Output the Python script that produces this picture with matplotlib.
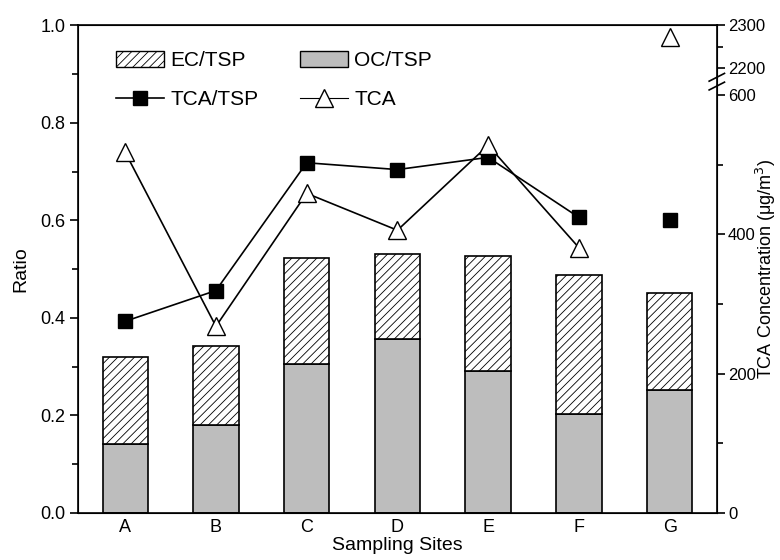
import numpy as np
import matplotlib
matplotlib.use("Agg")
import matplotlib.pyplot as plt
from matplotlib.patches import Patch
from matplotlib.lines import Line2D
from matplotlib.ticker import MultipleLocator, FixedLocator

plt.rcParams['font.family'] = ['Liberation Sans', 'DejaVu Sans']
plt.rcParams['hatch.linewidth'] = 0.6

# datos
sites = ['A', 'B', 'C', 'D', 'E', 'F', 'G']
ec_oc_total = [0.320, 0.342, 0.522, 0.530, 0.526, 0.487, 0.451]   # tope de la barra rayada
oc_tsp = [0.142, 0.180, 0.305, 0.357, 0.292, 0.202, 0.252]
tca_tsp = [0.393, 0.456, 0.718, 0.704, 0.729, 0.606, 0.601]
tca = [518, 268, 459, 406, 528, 381, 2272]

ec_tsp = [t - o for t, o in zip(ec_oc_total, oc_tsp)]
x = np.arange(len(sites))

fig = plt.figure(figsize=(7.8, 5.6), dpi=100)
ax = fig.add_axes([0.1, 0.084, 0.819, 0.871])

# barras apiladas
ax.bar(x, oc_tsp, width=0.5, color='#bdbdbd', edgecolor='black', linewidth=1.2, zorder=2)
ax.bar(x, ec_tsp, width=0.5, bottom=oc_tsp, color='white', edgecolor='black',
       hatch='////', linewidth=1.2, zorder=2)

# TCA/TSP (A-F unidos, G suelto)
ax.plot(x[:6], tca_tsp[:6], color='black', lw=1.2, marker='s', ms=10.5, zorder=4)
ax.plot(x[6:], tca_tsp[6:], color='black', lw=0, marker='s', ms=10.5, zorder=4)

ax.set_xlim(-0.52, 6.52)
ax.set_ylim(0, 1.0)
ax.set_xticks(x)
ax.set_xticklabels(sites)
ax.yaxis.set_major_locator(MultipleLocator(0.2))
ax.yaxis.set_minor_locator(MultipleLocator(0.1))
ax.tick_params(axis='y', which='major', direction='out', length=6, width=1.2, labelsize=13, pad=3)
ax.tick_params(axis='y', which='minor', direction='out', length=4, width=1.2)
ax.tick_params(axis='x', length=0, labelsize=13, pad=4)
ax.set_xlabel('Sampling Sites', fontsize=14, labelpad=1)
ax.set_ylabel('Ratio', fontsize=14, labelpad=8)
for s in ax.spines.values():
    s.set_linewidth(1.2)

# eje derecho con corte (0-600 y 2200-2300)
ax2 = ax.twinx()
v_pts = [0, 600, 2200, 2300]
p_pts = [0, 418, 445, 488]
fwd = lambda v: np.interp(v, v_pts, p_pts)
inv = lambda p: np.interp(p, p_pts, v_pts)
ax2.set_yscale('function', functions=(fwd, inv))
ax2.set_ylim(0, 2300)
ax2.yaxis.set_major_locator(FixedLocator([0, 200, 400, 600, 2200, 2300]))
ax2.yaxis.set_minor_locator(FixedLocator([100, 300, 500, 2250]))
ax2.set_yticklabels(['0', '200', '400', '600', '2200', '2300'])
ax2.tick_params(axis='y', which='major', direction='out', length=6, width=1.2, labelsize=12, pad=2)
ax2.tick_params(axis='y', which='minor', direction='out', length=4, width=1.2)
ax2.set_ylabel('TCA Concentration (μg/m$^3$)', fontsize=13)
ax2.yaxis.set_label_coords(1.058, 0.5)

ax2.plot(x[:6], tca[:6], color='black', lw=1.2, marker='^', ms=12.5,
         markerfacecolor='white', markeredgecolor='black', zorder=4)
ax2.plot(x[6:], tca[6:], lw=0, marker='^', ms=12.5,
         markerfacecolor='white', markeredgecolor='black', zorder=4)

# marcas de corte
yb = (fwd(600) + fwd(2200)) / 2 / 488
for dy in (-0.009, 0.009):
    ax2.plot([0.988, 1.012], [yb + dy - 0.008, yb + dy + 0.008], transform=ax2.transAxes,
             color='black', lw=1.2, clip_on=False)

handles = [
    Patch(facecolor='white', edgecolor='black', hatch='////'),
    Line2D([], [], color='black', lw=1.2, marker='s', ms=10.5),
    Patch(facecolor='#bdbdbd', edgecolor='black'),
    Line2D([], [], color='black', lw=0.8, marker='^', ms=12.5, markerfacecolor='white'),
]
labels = ['EC/TSP', 'TCA/TSP', 'OC/TSP', 'TCA']
ax2.legend(handles, labels, ncol=2, frameon=False, loc='upper left',
           bbox_to_anchor=(0.03, 0.985), fontsize=15, handlelength=2.3, handleheight=0.8,
           columnspacing=2.0, handletextpad=0.3, labelspacing=0.95)

fig.savefig('out.png', dpi=100)
